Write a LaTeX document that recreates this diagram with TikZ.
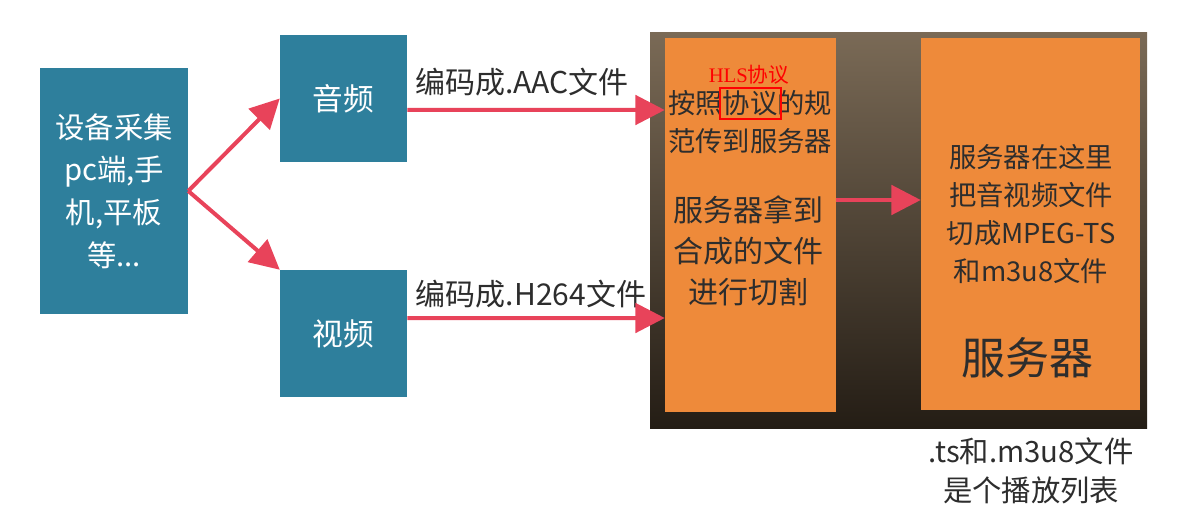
\documentclass[tikz,border=0pt]{standalone}
\usepackage{fontspec}
\setmainfont{Noto Sans CJK SC}
\newfontfamily\hlsserif{Liberation Serif}
\usepackage{tikz}
\usetikzlibrary{arrows.meta}

\definecolor{boxblue}{RGB}{46,127,156}
\definecolor{boxorange}{RGB}{238,138,58}
\definecolor{arrowred}{RGB}{232,67,90}
\definecolor{bgtop}{RGB}{122,106,86}
\definecolor{bgbottom}{RGB}{36,29,21}
\definecolor{notegray}{RGB}{45,45,45}

\begin{document}
\begin{tikzpicture}[x=0.75pt,y=0.75pt,yscale=-1,xscale=1,
  bluebox/.style={fill=boxblue, text=white, inner sep=0pt, align=center},
  orangebox/.style={fill=boxorange, inner sep=0pt},
  redarrow/.style={draw=arrowred, line width=3pt, -{Triangle[length=22pt,width=22pt]}},
  darktext/.style={text=notegray, align=center, inner sep=0pt}]
\useasboundingbox (0,0) rectangle (1198,521);

%Shape: Server backdrop
\shade [top color=bgtop, bottom color=bgbottom] (650,32) rectangle (1147,428);

%Shape: Device box
\node [bluebox, minimum width=111pt, minimum height=184.5pt,
  font=\fontsize{22}{32}\selectfont] (device) at (114,191)
  {设备采集\\pc端,手\\机,平板\\等...};
%Shape: Audio box
\node [bluebox, minimum size=95.25pt, font=\fontsize{23}{30}\selectfont] (audio) at (343.5,98.5) {音频};
%Shape: Video box
\node [bluebox, minimum size=95.25pt, font=\fontsize{23}{30}\selectfont] (video) at (343.5,333.5) {视频};

%Shape: Protocol box
\node [orangebox, minimum width=128.25pt, minimum height=280.5pt] (proto) at (750.5,225) {};
%Shape: Server box
\node [orangebox, minimum width=164.25pt, minimum height=279pt] (server) at (1030.5,224) {};

% Text Node
\node [darktext, font=\fontsize{22.5}{28}\selectfont] (aaclabel) at (522,82.5) {编码成.AAC文件};
% Text Node
\node [darktext, font=\fontsize{22.5}{28}\selectfont] (h264label) at (531,294) {编码成.H264文件};
% Text Node
\node [darktext, font=\fontsize{20.5}{29}\selectfont] (prototext) at (750,122) {按照协议的规\\范传到服务器};
% Text Node
\node [darktext, font=\fontsize{22.5}{30.5}\selectfont] (cuttext) at (748,251) {服务器拿到\\合成的文件\\进行切割};
% Text Node
\node [text=red, inner sep=0pt, font=\fontsize{15.5}{18}\selectfont] (hlsnote) at (749,75) {{\hlsserif HLS}协议};
% Red frame round the protocol word
\node [draw=red, line width=1.2pt, minimum width=45.75pt, minimum height=23.25pt, inner sep=0pt] (hlsframe) at (750.5,103.5) {};
% Text Node
\node [darktext, font=\fontsize{20.5}{28.5}\selectfont] (servertext) at (1031,214) {服务器在这里\\把音视频文件\\切成MPEG-TS\\和m3u8文件};
% Text Node
\node [darktext, font=\fontsize{33}{40}\selectfont] (servertitle) at (1027,358) {服务器};
% Text Node
\node [darktext, font=\fontsize{22}{29}\selectfont] (playlist) at (1031,471) {.ts和.m3u8文件\\是个播放列表};

%Arrows
\draw [redarrow] (device.east) -- (audio.west);
\draw [redarrow] (device.east) -- (video.north west);
\draw [redarrow] ([yshift=8.6pt]audio.east) -- ([yshift=-86.25pt]proto.west);
\draw [redarrow] ([yshift=-11.6pt]video.east) -- ([yshift=69.75pt]proto.west);
\draw [redarrow] ([yshift=-18.75pt]proto.east) -- ([yshift=-18pt]server.west);

\end{tikzpicture}
\end{document}
